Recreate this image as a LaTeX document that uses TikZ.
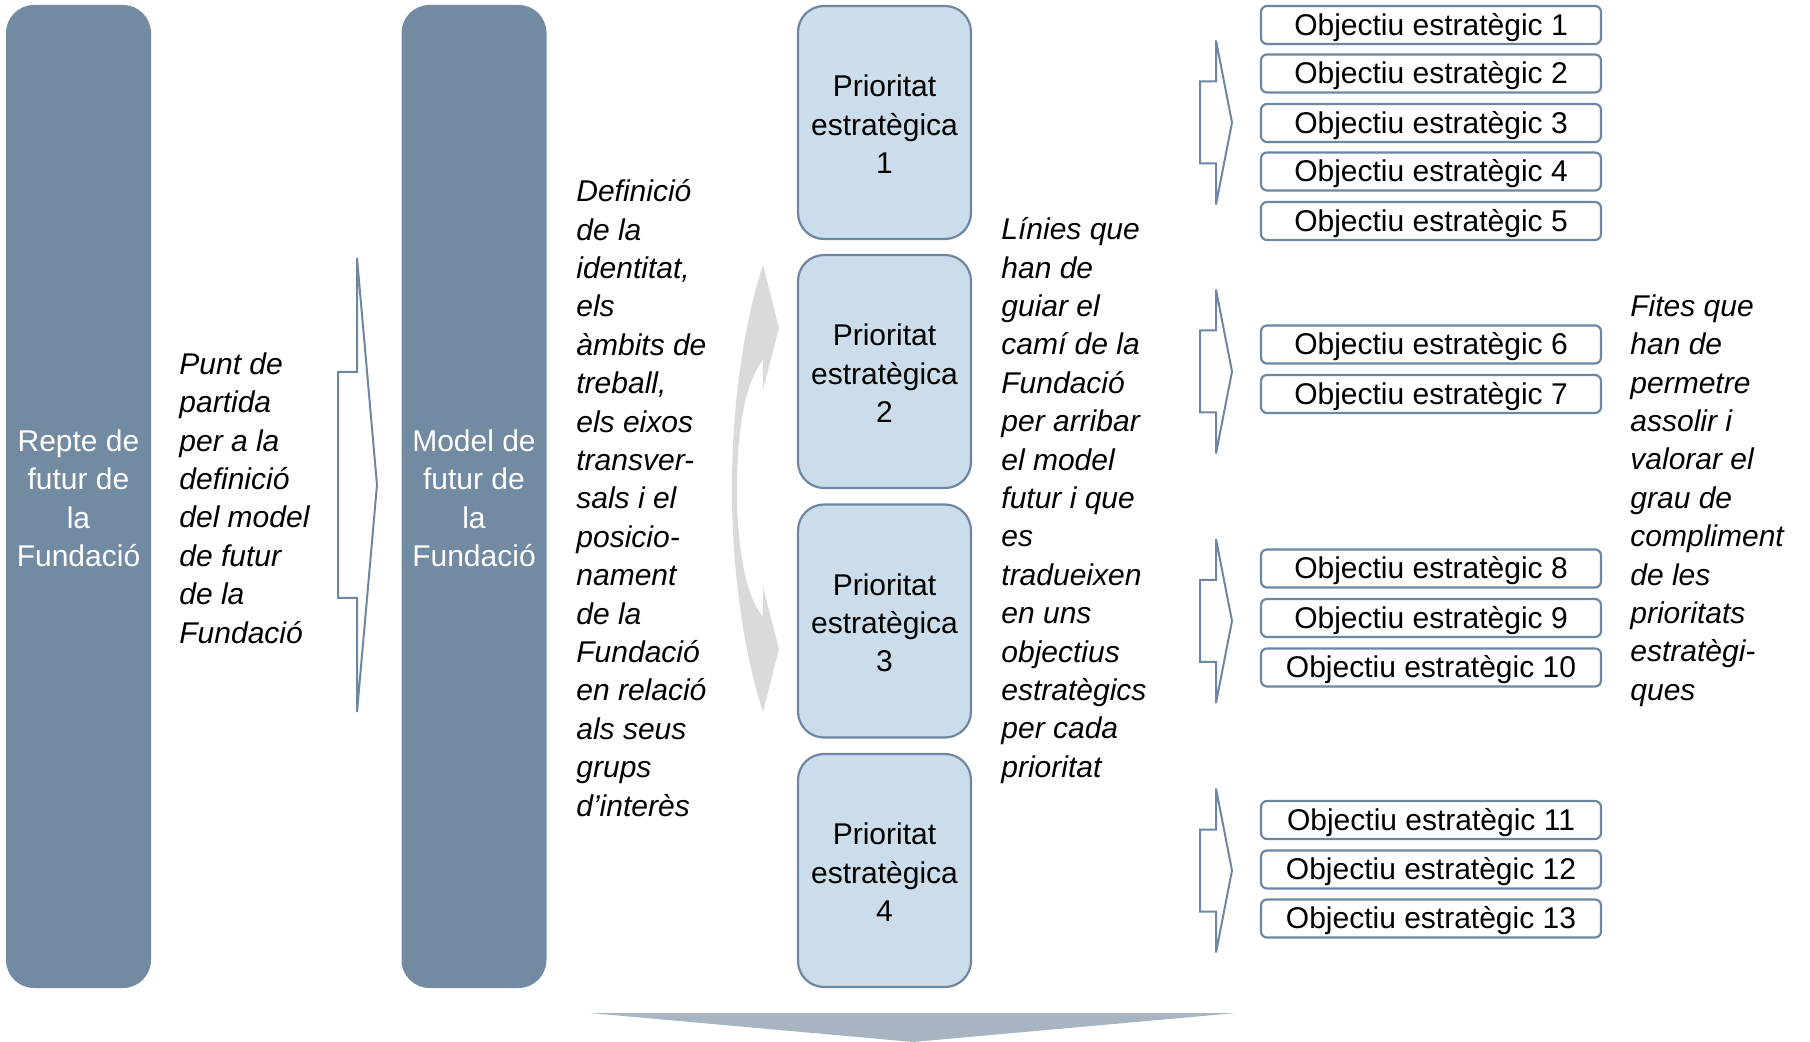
\documentclass[tikz,border=0pt]{standalone}
\usepackage{fontspec}
\setmainfont{Liberation Sans}
\definecolor{barblue}{HTML}{728AA2}
\definecolor{prifill}{HTML}{CBDCEB}
\definecolor{edge}{HTML}{6F86A0}
\definecolor{curvefill}{HTML}{DADADA}
\definecolor{trifill}{HTML}{A7B4C2}
\begin{document}
\begin{tikzpicture}[x=0.5pt,y=-0.5pt,
  font=\fontsize{15}{19.2}\selectfont,
  bar/.style={rectangle, rounded corners=14pt, fill=barblue, text=white, align=center,
    minimum width=72.5pt, minimum height=491.5pt, inner sep=0pt,
    text height=70.2pt, text depth=0pt},
  prio/.style={rectangle, rounded corners=13pt, fill=prifill, draw=edge, line width=1.1pt,
    align=center, minimum width=86.5pt, minimum height=116.5pt, inner sep=0pt,
    text height=51pt, text depth=0pt},
  obj/.style={rectangle, rounded corners=3pt, draw=edge, line width=1.1pt, fill=white,
    minimum width=170pt, minimum height=19pt, inner sep=0pt,
    text height=13.3pt, text depth=3.2pt},
  note/.style={align=left, anchor=west, inner sep=0pt,
    font=\fontsize{15}{19.2}\selectfont\itshape},
  blockarrow/.style={draw=edge, line width=1pt, fill=white, line join=miter},
  curvearrow/.style={fill=curvefill},
  downtri/.style={fill=trifill}]
\useasboundingbox (0,0) rectangle (1810,1042);

% vertical bars
\node[bar] (repte) at (78.5,496.5) {Repte de\\futur de\\la\\Fundació};
\node[bar] (model) at (474,496.5) {Model de\\futur de\\la\\Fundació};

% descriptive texts
\node[note] (punt) at (179,498) {Punt de\\partida\\per a la\\definició\\del model\\de futur\\de la\\Fundació};
\node[note] (defi) at (576,498) {Definició\\de la\\identitat,\\els\\àmbits de\\treball,\\els eixos\\transver-\\sals i el\\posicio-\\nament\\de la\\Fundació\\en relació\\als seus\\grups\\d’interès};
\node[note] (linies) at (1001,500.5) {Línies que\\han de\\guiar el\\camí de la\\Fundació\\per arribar\\el model\\futur i que\\es\\tradueixen\\en uns\\objectius\\estratègics\\per cada\\prioritat};
\node[note] (fites) at (1630,500.5) {Fites que\\han de\\permetre\\assolir i\\valorar el\\grau de\\compliment\\de les\\prioritats\\estratègi-\\ques};

% big block arrow
\draw[blockarrow] (357,258) -- (377,485) -- (357,712) -- (357,598) -- (338,598)
  -- (338,372) -- (357,372) -- cycle;

% curved gray arrows
\fill[curvearrow] (763,265) -- (779,328) -- (763,390) -- (763,360)
  .. controls (748,378) and (737,420) .. (737,488.5)
  .. controls (737,557) and (748,599) .. (763,617)
  -- (763,587) -- (779,649) -- (763,712)
  .. controls (745,657) and (732,577) .. (732,488.5)
  .. controls (732,400) and (745,320) .. (763,265) -- cycle;

% priorities
\node[prio] (p1) at (884.5,122.5) {Prioritat\\estratègica\\1};
\node[prio] (p2) at (884.5,371.5) {Prioritat\\estratègica\\2};
\node[prio] (p3) at (884.5,621) {Prioritat\\estratègica\\3};
\node[prio] (p4) at (884.5,870.5) {Prioritat\\estratègica\\4};

% small block arrows
\foreach \c in {122.5,371.5,621,870.5}{
  \draw[blockarrow] (1216,{\c-82}) -- (1232,\c) -- (1216,{\c+82}) -- (1216,{\c+41})
    -- (1200,{\c+41}) -- (1200,{\c-41}) -- (1216,{\c-41}) -- cycle;
}

% objectives
\node[obj] (o1) at (1431,25) {Objectiu estratègic 1};
\node[obj] (o2) at (1431,73.5) {Objectiu estratègic 2};
\node[obj] (o3) at (1431,123) {Objectiu estratègic 3};
\node[obj] (o4) at (1431,171.5) {Objectiu estratègic 4};
\node[obj] (o5) at (1431,221) {Objectiu estratègic 5};
\node[obj] (o6) at (1431,344.5) {Objectiu estratègic 6};
\node[obj] (o7) at (1431,394) {Objectiu estratègic 7};
\node[obj] (o8) at (1431,568.5) {Objectiu estratègic 8};
\node[obj] (o9) at (1431,618) {Objectiu estratègic 9};
\node[obj] (o10) at (1431,667.5) {Objectiu estratègic 10};
\node[obj] (o11) at (1431,820) {Objectiu estratègic 11};
\node[obj] (o12) at (1431,869.5) {Objectiu estratègic 12};
\node[obj] (o13) at (1431,918.5) {Objectiu estratègic 13};

% bottom down triangle
\fill[downtri] (590,1013) -- (1236,1013) -- (913,1042) -- cycle;
\end{tikzpicture}
\end{document}
